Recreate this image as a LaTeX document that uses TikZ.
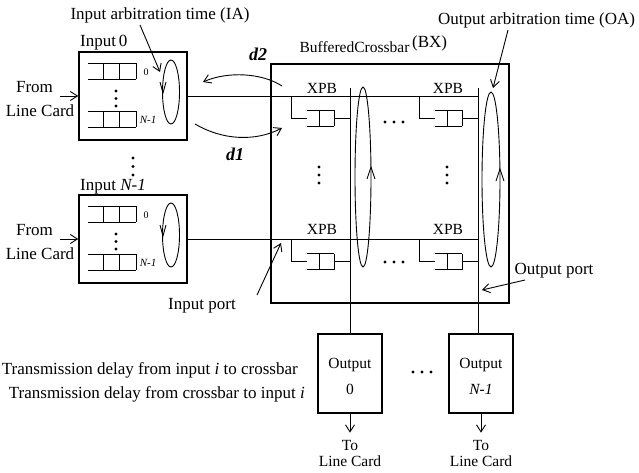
\documentclass[tikz,border=0pt]{standalone}
\usepackage{fontspec}
\setmainfont{Liberation Serif}
\usetikzlibrary{arrows.meta}
\begin{document}
\begin{tikzpicture}[x=1pt,y=-1pt,
  txt/.style={font=\fontsize{17}{20}\selectfont, inner sep=0pt},
  txtm/.style={font=\fontsize{15.5}{18}\selectfont, inner sep=0pt},
  txts/.style={font=\fontsize{10}{12}\selectfont, inner sep=0pt},
  txti/.style={font=\fontsize{11}{12}\selectfont\itshape, inner sep=0pt},
  dlab/.style={font=\fontsize{18}{20}\selectfont\bfseries\itshape, inner sep=0pt},
  frame/.style={draw, line width=1.6pt, inner sep=0pt},
  wire/.style={line width=0.9pt},
  arr/.style={wire, -{Straight Barb[length=7pt,width=9pt]}},
  voq/.pic={\draw[wire] (0,0) -- (48,0) (0,16) -- (48,16) (15,0) -- (15,16)
            (31,0) -- (31,16) (48,0) -- (48,16);},
  xpq/.pic={\draw[wire] (0,0) -- (0,22.5) -- (16,22.5) (16,14.5) -- (43,14.5)
            (16,30.5) -- (43,30.5) (28,14.5) -- (28,30.5) (43,14.5) -- (43,30.5)
            (43,22.5) -- (59,22.5);},
]
\useasboundingbox (0,0) rectangle (639,473);

% ---- input line cards ----
\node[frame, minimum width=108pt, minimum height=88pt] (in0) at (133,96) {};
\node[frame, minimum width=108pt, minimum height=88pt] (in1) at (133,239) {};
\node[txt, anchor=west] (in0lab) at (80,43) {Input\,0};
\node[txt, anchor=west] (in1lab) at (80,187) {Input \textit{N-1}};

\foreach \dy/\n in {0/0,143/1} {
  \pic at (88,63+\dy) {voq};
  \pic at (88,111+\dy) {voq};
  \node[txts] (q0lab\n) at (146,72+\dy) {0};
  \node[txti] (qNlab\n) at (148,120+\dy) {N-1};
  \foreach \yy in {91,98.5,106} \fill (116,\yy+\dy) circle (1.7pt);
  \draw[wire] (171,92+\dy) ellipse [x radius=8.5pt, y radius=32pt];
  \draw[wire] (160,82+\dy) -- (163,93+\dy) -- (166,82+\dy);
  \node[txt] (from\n) at (34.5,87+\dy) {From};
  \node[txt] (lc\n) at (40,111+\dy) {Line Card};
  \coordinate (src\n) at (60,96+\dy);
}
\draw[arr] (src0) -- (in0.west);
\draw[arr] (src1) -- (in1.west);

% dots between the input cards
\foreach \yy in {158,166.5,175} \fill (133,\yy) circle (1.7pt);

% ---- input arbitration label ----
\node[txt] (ia) at (160,15) {Input arbitration time (IA)};
\coordinate (iaFrom) at (140,25);
\coordinate (iaTo) at (160,72);
\draw[arr] (iaFrom) -- (iaTo);

% ---- crossbar ----
\node[draw, line width=1.8pt, minimum width=238pt, minimum height=239pt] (xb) at (390,183.5) {};
\node[txtm] (xbname) at (354.5,47) {BufferedCrossbar};
\node[txtm, anchor=west, font=\fontsize{17}{18}\selectfont] (xbtag) at (412,43) {(BX)};

% output boxes
\node[frame, minimum width=64pt, minimum height=79pt] (out0) at (350,373.5) {};
\node[frame, minimum width=64pt, minimum height=79pt] (out1) at (481,373.5) {};
\node[txtm] (o0a) at (350,365) {Output};
\node[txtm] (o0b) at (350,389) {0};
\node[txtm] (o1a) at (481,365) {Output};
\node[txtm, font=\fontsize{15.5}{18}\selectfont\itshape] (o1b) at (481,389) {N-1};

% rows and columns
\coordinate (rowEnd0) at (478,96);
\coordinate (rowEnd1) at (478,239);
\draw[wire] (in0.east) -- (rowEnd0);
\draw[wire] (in1.east) -- (rowEnd1);
\coordinate (colTop0) at (350,88);
\coordinate (colTop1) at (478,88);
\draw[wire] (colTop0) -- (out0.north);
\draw[wire] (colTop1) -- (colTop1 |- out1.north);

% crosspoint buffers
\pic at (291,96) {xpq};
\pic at (419,96) {xpq};
\pic at (291,239) {xpq};
\pic at (419,239) {xpq};
\node[txtm] (xpb00) at (322,88) {XPB};
\node[txtm] (xpb01) at (448,88) {XPB};
\node[txtm] (xpb10) at (322,229) {XPB};
\node[txtm] (xpb11) at (448,229) {XPB};

% dots inside the crossbar
\foreach \xx in {385,394,403} {
  \fill (\xx,122) circle (1.7pt);
  \fill (\xx,262) circle (1.7pt);
}
\foreach \yy in {167,175,183} {
  \fill (319,\yy) circle (1.7pt);
  \fill (447,\yy) circle (1.7pt);
}
\foreach \xx in {413,422,431} \fill (\xx,372) circle (1.7pt);

% output arbiters
\draw[wire] (363,177) ellipse [x radius=8pt, y radius=90pt];
\draw[wire] (367,179) -- (371,167) -- (375,179);
\draw[wire] (491,179.5) ellipse [x radius=9pt, y radius=87.5pt];
\draw[wire] (496,181) -- (500,169) -- (504,181);

\node[txt, anchor=west] (oa) at (438,20) {Output arbitration time (OA)};
\coordinate (oaFrom) at (508,30);
\coordinate (oaTo) at (493,88);
\draw[arr] (oaFrom) -- (oaTo);

% ports
\node[txt] (ip) at (202,306) {Input port};
\coordinate (ipFrom) at (257,295);
\coordinate (ipTo) at (281,243);
\draw[arr] (ipFrom) -- (ipTo);
\node[txt] (op) at (554,271) {Output port};
\coordinate (opFrom) at (525,280);
\coordinate (opTo) at (482,290);
\draw[arr] (opFrom) -- (opTo);

% transmission delays
\node[dlab] (d2lab) at (258,54) {d2};
\node[dlab] (d1lab) at (235,154) {d1};
\coordinate (d2s) at (282,86);
\coordinate (d2e) at (203,82);
\draw[arr] (d2s) .. controls (262,73) and (228,71) .. (d2e);
\coordinate (d1s) at (195,124);
\coordinate (d1e) at (282,128);
\draw[arr] (d1s) .. controls (222,140) and (255,142) .. (d1e);

\node[txt, anchor=east] (t1) at (298,370) {Transmission delay from input \textit{i} to crossbar};
\node[txt, anchor=east] (t2) at (305,394) {Transmission delay from crossbar to input~\textit{i}};

% to line cards
\node[txtm] (to0) at (350,445) {To};
\node[txtm] (lco0) at (350,461) {Line Card};
\node[txtm] (to1) at (481,445) {To};
\node[txtm] (lco1) at (481,461) {Line Card};
\draw[arr] (out0.south) -- ([yshift=7pt]to0.north);
\draw[arr] (out1.south) -- ([yshift=7pt]to1.north);
\end{tikzpicture}
\end{document}
